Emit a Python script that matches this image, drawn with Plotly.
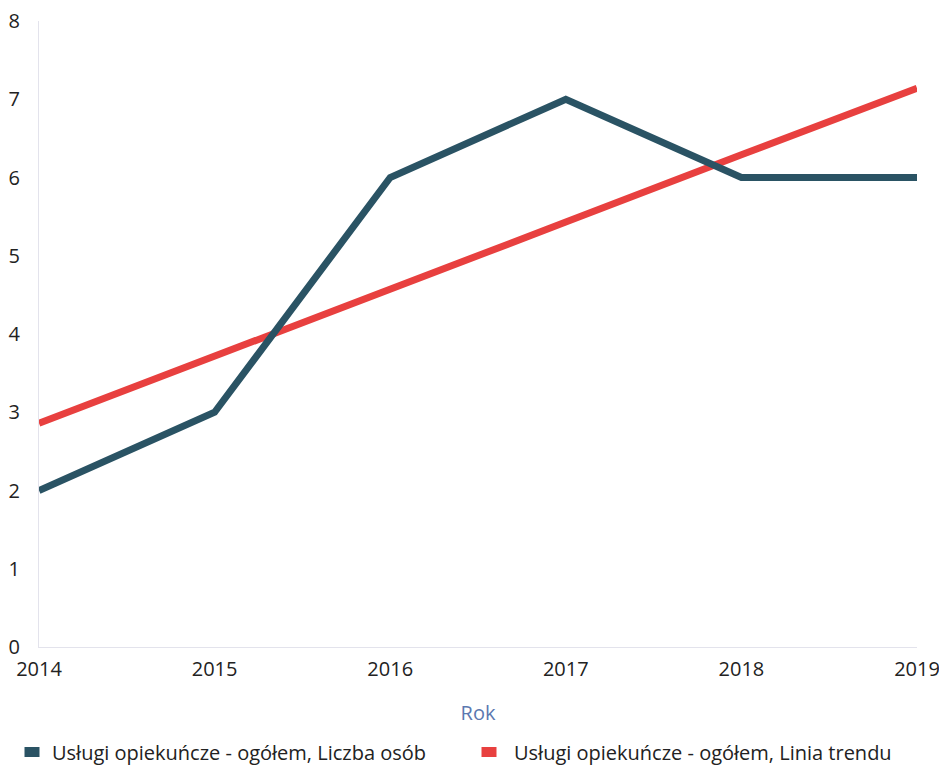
import plotly.graph_objects as go

years = ["2014", "2015", "2016", "2017", "2018", "2019"]
liczba_osob = [2, 3, 6, 7, 6, 6]
linia_trendu = [2.86, 3.71, 4.57, 5.43, 6.29, 7.14]
y_ticks = [0, 1, 2, 3, 4, 5, 6, 7, 8]

name1 = "Usługi opiekuńcze - ogółem, Liczba osób"
name2 = "Usługi opiekuńcze - ogółem, Linia trendu"
c1 = "#2a5364"
c2 = "#e8403f"

W, H = 939, 758
ML, MR, MT, MB = 31, 30, 13, 119
PW, PH = W - ML - MR, H - MT - MB


def px_x(x):
    return (x - ML) / PW


def px_y(y):
    return (H - MB - y) / PH


fig = go.Figure()
fig.add_trace(go.Scatter(x=years, y=linia_trendu, mode="lines", name=name2,
                         line=dict(color=c2, width=7), showlegend=False))
fig.add_trace(go.Scatter(x=years, y=liczba_osob, mode="lines", name=name1,
                         line=dict(color=c1, width=7), showlegend=False))

# manual legend (square swatches + text) below the plot
legend_items = [(name1, c1, 24, 42), (name2, c2, 481, 504)]
ly = 744
for name, col, mx, tx in legend_items:
    fig.add_shape(type="rect", xref="paper", yref="paper",
                  x0=px_x(mx - 7.5), x1=px_x(mx + 7.5),
                  y0=px_y(ly + 5), y1=px_y(ly - 5),
                  fillcolor=col, line=dict(width=0))
    fig.add_annotation(text=name, xref="paper", yref="paper",
                       x=px_x(tx), y=px_y(ly), xanchor="left", yanchor="middle",
                       showarrow=False, font=dict(size=20, color="#222222"))

fig.update_layout(
    width=W, height=H,
    margin=dict(l=ML, r=MR, t=MT, b=MB),
    paper_bgcolor="white", plot_bgcolor="white",
    font=dict(family="Open Sans, sans-serif", size=20, color="#222222"),
    showlegend=False,
    xaxis=dict(
        type="category", range=[0, 5], showgrid=False, zeroline=False,
        showline=True, linecolor="#e3e3ec", linewidth=1,
        ticks="", ticklabelstandoff=4, automargin=False, ticklabeloverflow="allow",
        title=dict(text="Rok", font=dict(size=20, color="#5b78b0"), standoff=24),
    ),
    yaxis=dict(
        range=[0, 8], tickvals=y_ticks, showgrid=False, zeroline=False,
        showline=True, linecolor="#e3e3ec", linewidth=1,
        ticks="", ticklabelstandoff=14, automargin=False, ticklabeloverflow="allow",
    ),
)

fig.write_html("out.html")
